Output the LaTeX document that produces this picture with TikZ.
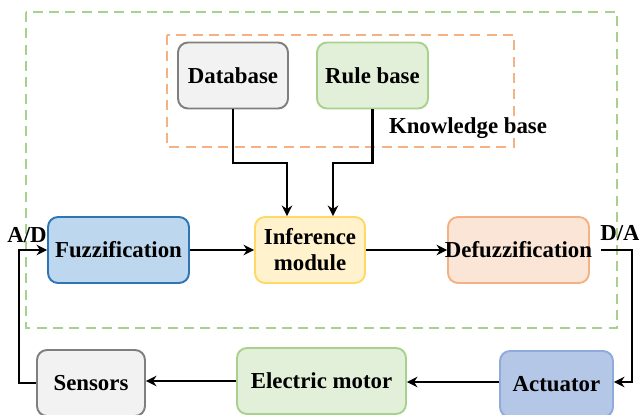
\documentclass[tikz,border=0pt]{standalone}
\usepackage{fontspec}
\setmainfont{Liberation Serif}
\usetikzlibrary{arrows.meta}

\definecolor{grayfill}{HTML}{F2F2F2}
\definecolor{grayline}{HTML}{7F7F7F}
\definecolor{greenfill}{HTML}{E2F0D9}
\definecolor{greenline}{HTML}{A9D18E}
\definecolor{bluefill}{HTML}{BDD7EE}
\definecolor{blueline}{HTML}{2E75B6}
\definecolor{yellowfill}{HTML}{FFF2CC}
\definecolor{yellowline}{HTML}{FFD966}
\definecolor{orangefill}{HTML}{FBE5D6}
\definecolor{orangeline}{HTML}{F4B183}
\definecolor{actfill}{HTML}{B4C7E7}
\definecolor{actline}{HTML}{8FAADC}

\tikzset{
  block/.style={draw, line width=1.1pt, rounded corners=0.2cm, inner sep=0pt,
    minimum height=1.32cm, align=center,
    font=\fontsize{13}{14.7}\selectfont\bfseries},
  link/.style={line width=1.3pt, -{Stealth[length=6pt,width=6pt]}},
  group/.style={line width=1.4pt, dash pattern=on 5.7pt off 3.6pt},
  tag/.style={font=\fontsize{13}{14.7}\selectfont\bfseries}
}

\begin{document}
\begin{tikzpicture}[x=0.02cm,y=-0.02cm]
        \useasboundingbox (0,0) rectangle (639,415);

        % Draw dashed groups
        \draw[group, greenline] (26,12) rectangle (617,328); % Fuzzy controller
        \draw[group, orangeline] (167,35) rectangle (514,147); % Knowledge base

        % Knowledge base blocks
        \node[block, fill=grayfill, draw=grayline, minimum width=2.2cm] (db) at (233,75.5) {Database};
        \node[block, fill=greenfill, draw=greenline, minimum width=2.22cm] (rb) at (372.5,75.5) {Rule base};
        \node[tag] (kb) at (468,128) {Knowledge base};

        % Middle row
        \node[block, fill=bluefill, draw=blueline, minimum width=2.82cm] (fuzz) at (118.5,250) {Fuzzification};
        \node[block, fill=yellowfill, draw=yellowline, minimum width=2.2cm] (inf) at (310,250) {Inference\\module};
        \node[block, fill=orangefill, draw=orangeline, minimum width=2.82cm] (defuzz) at (518.5,250) {\makebox[2cm]{Defuzzification}};

        % Bottom row
        \node[block, fill=grayfill, draw=grayline, minimum width=2.16cm] (sens) at (91,383) {Sensors};
        \node[block, fill=greenfill, draw=greenline, minimum width=3.38cm] (motor) at (321.5,381) {Electric motor};
        \node[block, fill=actfill, draw=actline, minimum width=2.26cm] (act) at (556.5,384) {Actuator};

        % Converter labels
        \node[tag] (ad) at (27,235) {A/D};
        \node[tag] (da) at (620,233) {D/A};

        % Arrows from knowledge base
        \draw[link] (db.south) |- (287,163) -- (inf.north -| 287,0); % Database to inference
        \draw[link] (rb.south) |- (333,163) -- (inf.north -| 333,0); % Rule base to inference

        % Arrows along the loop
        \draw[link] (fuzz) -- (inf); % Fuzzification to inference
        \draw[link] (inf) -- (defuzz); % Inference to defuzzification
        \draw[link] ([xshift=0.22cm]defuzz.east) -- ++(0.62cm,0) |- ([yshift=0.04cm]act.east); % D/A to actuator
        \draw[link] ([yshift=0.04cm]act.west) -- ([yshift=0.04cm]act.west -| motor.east); % Actuator to motor
        \draw[link] (motor.west) -- (motor.west -| sens.east); % Motor to sensors
        \draw[link] (sens.west) -- ++(-0.34cm,0) |- (fuzz.west); % Sensors to A/D
      \end{tikzpicture}
\end{document}
